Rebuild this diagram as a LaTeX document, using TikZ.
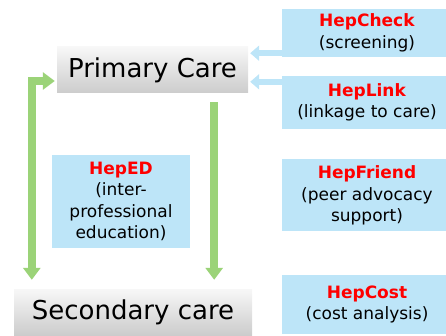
\documentclass[tikz,border=0pt]{standalone}
\usepackage{fontspec}
\setmainfont{DejaVu Sans}
\usepackage{tikz}
\usetikzlibrary{arrows.meta,positioning}
\definecolor{hepblue}{RGB}{189,229,248}
\definecolor{hepgreen}{RGB}{155,211,120}
\definecolor{hepred}{RGB}{255,0,0}
\tikzset{
  carebox/.style={top color=gray!6, bottom color=gray!40, inner sep=0pt,
    font=\fontsize{26}{31}\selectfont},
  hepbox/.style={fill=hepblue, align=center, inner sep=0pt,
    minimum width=170pt, font=\fontsize{17}{21.5}\selectfont},
  flow/.style={draw=hepgreen, line width=8pt,
    >={Triangle[width=17pt,length=12pt]}},
  feed/.style={draw=hepblue, line width=6pt, shorten >=2pt,
    -{Triangle[width=15pt,length=9pt]}},
}
\newcommand{\hepname}[1]{\textcolor{hepred}{\textbf{#1}}}

\begin{document}
\begin{tikzpicture}[x=1pt,y=-1pt]
\useasboundingbox (0,0) rectangle (446,336);
%care levels
\node[carebox, minimum width=191pt, minimum height=46pt] (pc) at (152.5,70) {Primary Care};
\node[carebox, minimum width=238pt, minimum height=46pt] (sc) at (133,312) {Secondary care};
%interventions
\node[hepbox, minimum height=48pt] (check) at (367,33) {\hepname{HepCheck}\\(screening)};
\node[hepbox, minimum height=53pt] (link) at (367,102.5) {\hepname{HepLink}\\(linkage to care)};
\node[hepbox, minimum height=72pt] (friend) at (367,195.5) {\hepname{HepFriend}\\(peer advocacy\\support)};
\node[hepbox, minimum height=59pt] (cost) at (367,304.5) {\hepname{HepCost}\\(cost analysis)};
\node[hepbox, minimum width=138pt, minimum height=93pt] (ed) at (121,201.5) {\hepname{HepED}\\(inter-\\professional\\education)};
%arrows
\draw[feed] ([yshift=4pt]check.south west) -- ([yshift=4pt]check.south west -| pc.east);
\draw[feed] ([yshift=-6pt]link.north west) -- ([yshift=-6pt]link.north west -| pc.east);
\draw[flow,<->,shorten >=2pt] ([xshift=18pt,yshift=9pt]sc.north west) |- ([yshift=-11pt]pc.west);
\draw[flow,->,shorten >=9pt] ([xshift=-34pt,yshift=-9pt]pc.south east) -- ([xshift=-34pt]pc.south east |- sc.north);
\end{tikzpicture}
\end{document}
